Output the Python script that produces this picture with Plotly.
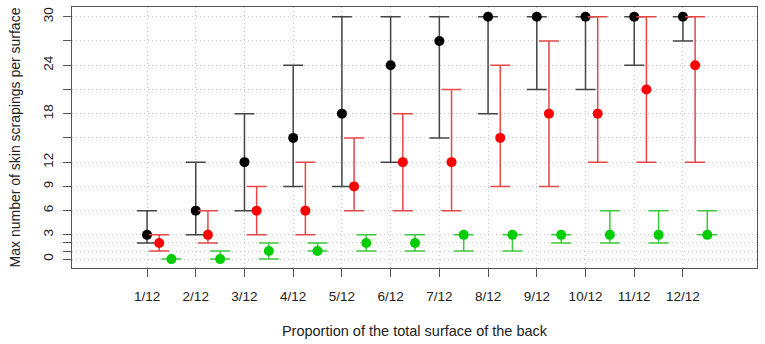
import plotly.graph_objects as go

categories = ["1/12", "2/12", "3/12", "4/12", "5/12", "6/12", "7/12", "8/12", "9/12", "10/12", "11/12", "12/12"]

black_val = [3, 6, 12, 15, 18, 24, 27, 30, 30, 30, 30, 30]
black_min = [2, 3, 6, 9, 9, 12, 15, 18, 21, 21, 24, 27]
black_max = [6, 12, 18, 24, 30, 30, 30, 30, 30, 30, 30, 30]

red_val = [2, 3, 6, 6, 9, 12, 12, 15, 18, 18, 21, 24]
red_min = [1, 2, 3, 3, 6, 6, 6, 9, 9, 12, 12, 12]
red_max = [3, 6, 9, 12, 15, 18, 21, 24, 27, 30, 30, 30]

green_val = [0, 0, 1, 1, 2, 2, 3, 3, 3, 3, 3, 3]
green_min = [0, 0, 0, 1, 1, 1, 1, 1, 2, 2, 2, 3]
green_max = [0, 1, 2, 2, 3, 3, 3, 3, 3, 6, 6, 6]

y_ticks = [0, 1, 2, 3, 6, 9, 12, 15, 18, 21, 24, 27, 30]
y_labels = ["0", "", "", "3", "6", "9", "12", "", "18", "", "24", "", "30"]

series = [
    (black_val, black_min, black_max, 0.0, "black", "#444444"),
    (red_val, red_min, red_max, 0.25, "#FF0000", "#E34848"),
    (green_val, green_min, green_max, 0.5, "#00CD00", "#3CC83C"),
]

pos = list(range(1, len(categories) + 1))

fig = go.Figure()
for val, mn, mx, off, mcol, bcol in series:
    fig.add_trace(go.Scatter(
        x=[p + off for p in pos],
        y=val,
        mode="markers",
        marker=dict(color=mcol, size=10),
        error_y=dict(
            type="data",
            symmetric=False,
            array=[b - v for v, b in zip(val, mx)],
            arrayminus=[v - a for v, a in zip(val, mn)],
            color=bcol,
            thickness=1.5,
            width=10,
        ),
        showlegend=False,
        hoverinfo="skip",
    ))

font = dict(family="Liberation Sans, Arial, sans-serif", size=13.5, color="#222222")
title_font = dict(family="Liberation Sans, Arial, sans-serif", size=14.5, color="#222222")

fig.update_layout(
    width=765,
    height=344,
    margin=dict(l=72, r=8, t=7, b=76),
    paper_bgcolor="white",
    plot_bgcolor="white",
    font=font,
    xaxis=dict(
        range=[-0.54, 13.52],
        tickvals=pos,
        ticktext=categories,
        ticks="outside",
        ticklen=8,
        tickcolor="#555555",
        ticklabelstandoff=8,
        showline=True,
        mirror=True,
        linecolor="#555555",
        linewidth=1.2,
        showgrid=True,
        gridcolor="#C8C8C8",
        griddash="1px,3px",
        zeroline=False,
        automargin=False,
        title=dict(text="Proportion of the total surface of the back", standoff=22, font=title_font),
    ),
    yaxis=dict(
        range=[-1.1, 31.2],
        tickvals=y_ticks,
        ticktext=y_labels,
        tickangle=-90,
        ticks="outside",
        ticklen=8,
        tickcolor="#555555",
        ticklabelstandoff=5,
        showline=True,
        mirror=True,
        linecolor="#555555",
        linewidth=1.2,
        showgrid=True,
        gridcolor="#C8C8C8",
        griddash="1px,3px",
        zeroline=False,
        automargin=False,
        title=dict(text="Max number of skin scrapings per surface", standoff=16, font=dict(title_font, size=14)),
    ),
)

fig.write_html(
    "out.html",
    config={"displayModeBar": False},
    post_script="document.body.style.margin='0';",
)
